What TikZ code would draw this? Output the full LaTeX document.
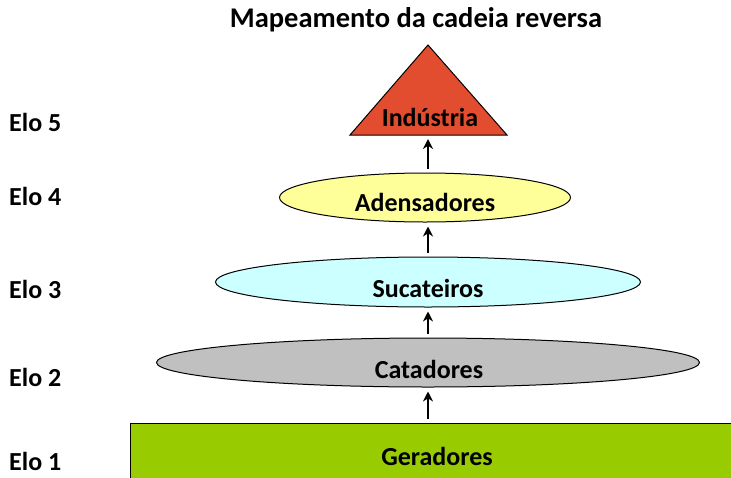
\documentclass[tikz,border=0pt]{standalone}
\usepackage{fontspec}
\setmainfont{Carlito}
\usetikzlibrary{shapes.geometric,arrows.meta}

\definecolor{corInd}{HTML}{E34D2F}
\definecolor{corAdens}{HTML}{FFFF99}
\definecolor{corSucat}{HTML}{CCFFFF}
\definecolor{corCatad}{HTML}{C0C0C0}
\definecolor{corGerad}{HTML}{99CC00}

\begin{document}
\begin{tikzpicture}[
  x=1pt,
  y=-1pt,
  every node/.style={
    font=\fontsize{26}{30}\selectfont\bfseries
  },
  elo/.style={
    anchor=west,
    inner sep=0pt
  },
  elipse/.style={
    ellipse,
    draw,
    line width=1pt,
    inner sep=0pt
  },
  seta/.style={
    -{Stealth[length=10pt,width=10pt]},
    line width=2.8pt,
    shorten <=4pt,
    shorten >=4pt
  },
]
\useasboundingbox (0,0) rectangle (731,477);
\node[font=\fontsize{28.5}{32}\selectfont\bfseries] (titulo) at (416,20) {Mapeamento da cadeia reversa};
% elos
\node[elo] (elo5) at (9,122) {Elo 5};
\node[elo] (elo4) at (9,196) {Elo 4};
\node[elo] (elo3) at (9,289) {Elo 3};
\node[elo] (elo2) at (9,377) {Elo 2};
\node[elo] (elo1) at (9,461) {Elo 1};
% cadeia
\draw[fill=corInd, line width=1pt] (350,135) -- (428,45) -- (507,135) -- cycle;
\coordinate (baseInd) at (428,135);
\node (ind) at (430,117) {Indústria};
\node[elipse, fill=corAdens, minimum width=291, minimum height=49] (adens) at (425,197.5) {};
\node at (425,202) {Adensadores};
\node[elipse, fill=corSucat, minimum width=425, minimum height=50] (sucat) at (428,282) {};
\node at (428,288) {Sucateiros};
\node[elipse, fill=corCatad, minimum width=543, minimum height=49] (catad) at (428,362.5) {};
\node at (429,369) {Catadores};
\draw[fill=corGerad, line width=1pt] (130,423) rectangle (740,490);
\node (gerad) at (437,456) {Geradores};
\coordinate (topoGerad) at (428,423);
% setas
\draw[seta] (adens.north -| baseInd) -- (baseInd);
\draw[seta] (sucat.north -| baseInd) -- (adens.south -| baseInd);
\draw[seta] (catad.north -| baseInd) -- (sucat.south -| baseInd);
\draw[seta] (topoGerad) -- (catad.south -| baseInd);
\end{tikzpicture}
\end{document}
